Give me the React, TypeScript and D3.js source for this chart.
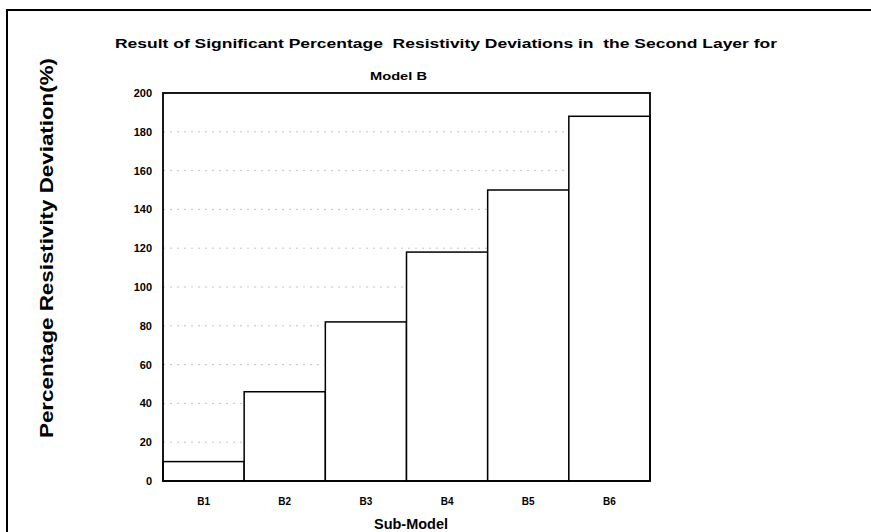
import React, { useEffect, useRef } from 'react';
import * as d3 from 'd3';

const subModels = ['B1', 'B2', 'B3', 'B4', 'B5', 'B6'];
const deviations = [10, 46, 82, 118, 150, 188];
const yTicks = [0, 20, 40, 60, 80, 100, 120, 140, 160, 180, 200];

const titleLine1 = 'Result of Significant Percentage  Resistivity Deviations in  the Second Layer for';
const titleLine2 = 'Model B';

export default function App() {
    const svgRef = useRef<SVGSVGElement>(null);

    useEffect(() => {
        if (!svgRef.current) return;
        const svg = d3.select(svgRef.current);
        svg.selectAll('*').remove();

        const left = 163, right = 650, top = 93, bottom = 481;
        const font = 'Arial, "Liberation Sans", sans-serif';

        const x = d3.scaleBand().domain(subModels).range([left, right]).padding(0);
        const y = d3.scaleLinear().domain([0, 200]).range([bottom, top]);

        // outer frame (top and left edges only, like the scan)
        svg.append('path')
            .attr('d', `M7,532 L7,10 L871,10`)
            .attr('fill', 'none')
            .attr('stroke', '#000')
            .attr('stroke-width', 2);

        // faint gridlines
        svg.append('g')
            .selectAll('line')
            .data(yTicks.filter(t => t > 0 && t < 200))
            .join('line')
            .attr('x1', left)
            .attr('x2', right)
            .attr('y1', d => y(d))
            .attr('y2', d => y(d))
            .attr('stroke', '#aaa')
            .attr('stroke-width', 0.7)
            .attr('stroke-dasharray', '2,5');

        // bars
        svg.append('g')
            .selectAll('rect')
            .data(subModels)
            .join('rect')
            .attr('x', d => x(d)!)
            .attr('y', (d, i) => y(deviations[i]))
            .attr('width', x.bandwidth())
            .attr('height', (d, i) => y(0) - y(deviations[i]))
            .attr('fill', '#fff')
            .attr('stroke', '#000')
            .attr('stroke-width', 1.5);

        // plot frame
        svg.append('rect')
            .attr('x', left)
            .attr('y', top)
            .attr('width', right - left)
            .attr('height', bottom - top)
            .attr('fill', 'none')
            .attr('stroke', '#000')
            .attr('stroke-width', 1.8);

        // y axis
        const yAxis = svg.append('g')
            .attr('transform', `translate(${left},0)`)
            .call(d3.axisLeft(y).tickValues(yTicks).tickSize(0).tickPadding(11));
        yAxis.select('.domain').remove();
        yAxis.selectAll('text')
            .attr('font-family', font)
            .attr('font-weight', 'bold')
            .attr('font-size', 11)
            .attr('fill', '#000');

        // x axis
        const xAxis = svg.append('g')
            .attr('transform', `translate(0,${bottom})`)
            .call(d3.axisBottom(x).tickSize(0).tickPadding(17));
        xAxis.select('.domain').remove();
        xAxis.selectAll('text')
            .attr('font-family', font)
            .attr('font-weight', 'bold')
            .attr('font-size', 10)
            .attr('fill', '#000');

        // titles
        svg.append('text')
            .attr('x', 115)
            .attr('y', 48)
            .attr('font-family', font)
            .attr('font-weight', 'bold')
            .attr('font-size', 13)
            .attr('textLength', 662)
            .attr('lengthAdjust', 'spacingAndGlyphs')
            .style('white-space', 'pre')
            .text(titleLine1);

        svg.append('text')
            .attr('x', 370)
            .attr('y', 80)
            .attr('font-family', font)
            .attr('font-weight', 'bold')
            .attr('font-size', 11.5)
            .attr('textLength', 57)
            .attr('lengthAdjust', 'spacingAndGlyphs')
            .text(titleLine2);

        svg.append('text')
            .attr('x', 374)
            .attr('y', 529)
            .attr('font-family', font)
            .attr('font-weight', 'bold')
            .attr('font-size', 14)
            .attr('textLength', 74)
            .attr('lengthAdjust', 'spacingAndGlyphs')
            .text('Sub-Model');

        svg.append('text')
            .attr('transform', `translate(53,248) rotate(-90)`)
            .attr('text-anchor', 'middle')
            .attr('font-family', font)
            .attr('font-weight', 'bold')
            .attr('font-size', 18)
            .attr('textLength', 380)
            .attr('lengthAdjust', 'spacingAndGlyphs')
            .text('Percentage Resistivity Deviation(%)');
    }, []);

    return (
        <svg ref={svgRef} width={871} height={532}
            style={{ position: 'absolute', left: 0, top: 0, background: '#fff' }} />
    );
}
